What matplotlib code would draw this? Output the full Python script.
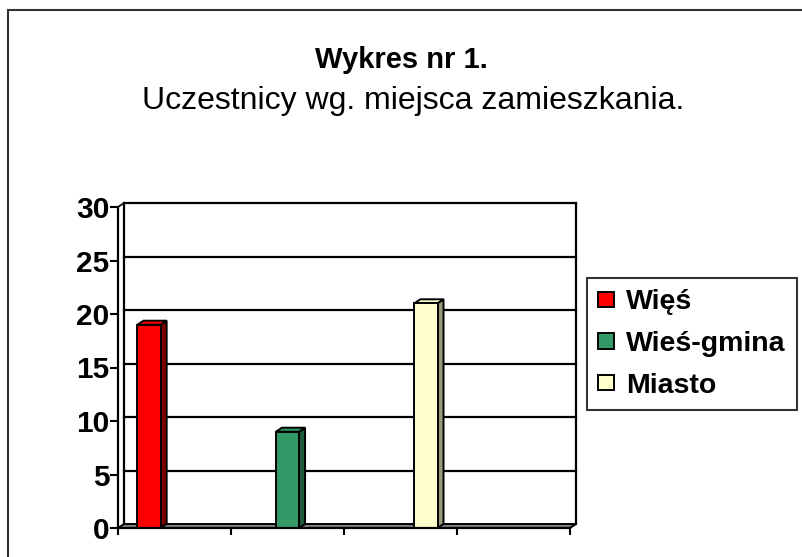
import matplotlib.pyplot as plt
from matplotlib.patches import Rectangle, Polygon

plt.rcParams['font.family'] = ['Liberation Sans', 'DejaVu Sans']

# data
categories = ['1', '2', '3', '4']
series_names = ['Więś', 'Wieś-gmina', 'Miasto']
values = [
    [19, 0, 0, 0],   # Więś
    [0, 9, 0, 0],    # Wieś-gmina
    [0, 0, 21, 0],   # Miasto
]
front_colors = ['#ff0000', '#339966', '#ffffcc']
side_colors = ['#800000', '#1e5c3d', '#99997a']
yticks = [0, 5, 10, 15, 20, 25, 30]

W, H = 802, 557
fig = plt.figure(figsize=(W / 100, H / 100), dpi=100)
# outer chart border (only top/left fall inside the picture)
fig.patches.append(Rectangle((8 / W, -0.2), 1.2, 1.2 - 10 / H, transform=fig.transFigure,
                             fill=False, edgecolor='#333333', lw=1.5))

# axes at the front plane (pixels: x 118..570, y 528..207)
ax = fig.add_axes([118 / W, 29 / H, 452 / W, 321 / H])
n = len(categories)
ax.set_xlim(0, n)
ax.set_ylim(0, 30)
ax.set_facecolor('none')

# depth offset in data units
dxp, dyp = 6, 4
dx = dxp * n / 452
dy = dyp * 30 / 321

# back wall + gridlines
for y in yticks[1:]:
    ax.plot([dx, n + dx], [y + dy, y + dy], color='black', lw=1.6, clip_on=False, zorder=1)
ax.plot([dx, dx], [dy, 30 + dy], color='black', lw=1.6, clip_on=False, zorder=1)
ax.plot([n + dx, n + dx], [dy, 30 + dy], color='black', lw=1.6, clip_on=False, zorder=1)
ax.plot([0, dx], [30, 30 + dy], color='black', lw=1.2, clip_on=False, zorder=1)

# floor
ax.add_patch(Polygon([(0, 0), (n, 0), (n + dx, dy), (dx, dy)], closed=True,
                     facecolor='#808080', edgecolor='black', lw=1.4, clip_on=False, zorder=2))

# bars
bw = 0.205
offsets = [-0.225, 0.0, 0.225]
for s, vals in enumerate(values):
    for i, v in enumerate(vals):
        if v <= 0:
            continue
        x0 = i + 0.5 + offsets[s] - bw / 2
        x1 = x0 + bw
        ax.add_patch(Polygon([(x1, 0), (x1 + dx, dy), (x1 + dx, v + dy), (x1, v)], closed=True,
                             facecolor=side_colors[s], edgecolor='black', lw=1.4,
                             clip_on=False, zorder=3))
        ax.add_patch(Polygon([(x0, v), (x1, v), (x1 + dx, v + dy), (x0 + dx, v + dy)], closed=True,
                             facecolor=front_colors[s], edgecolor='black', lw=1.4,
                             clip_on=False, zorder=3))
        ax.add_patch(Rectangle((x0, 0), bw, v, facecolor=front_colors[s], edgecolor='black',
                               lw=1.4, clip_on=False, zorder=4))

for sp in ['top', 'right']:
    ax.spines[sp].set_visible(False)
ax.spines['left'].set_linewidth(1.6)
ax.spines['bottom'].set_linewidth(1.6)
ax.spines['left'].set_zorder(5)
ax.spines['bottom'].set_zorder(5)

ax.set_yticks(yticks)
ax.set_yticklabels([str(t) for t in yticks], fontsize=21.5, fontweight='bold')
ax.set_xticks(range(n + 1))
ax.set_xticklabels([])
ax.tick_params(axis='y', length=6, width=1.5, pad=0)
ax.tick_params(axis='x', length=5, width=1.5)

# legend
handles = [Rectangle((0, 0), 1, 1, facecolor=c, edgecolor='black', lw=1.4) for c in front_colors]
leg = fig.legend(handles, series_names, loc='upper left', bbox_to_anchor=(587 / W, 1 - 278 / H),
                 prop={'weight': 'bold', 'size': 20.5}, frameon=True, fancybox=False,
                 edgecolor='black', handlelength=0.55, handleheight=0.45, handletextpad=0.42,
                 labelspacing=0.55, borderpad=0.4, borderaxespad=0)
leg.get_frame().set_linewidth(1.5)

fig.text(401 / W, 1 - 60 / H, 'Wykres nr 1.', ha='center', va='center', fontsize=21, fontweight='bold')
fig.text(413 / W, 1 - 101 / H, 'Uczestnicy wg. miejsca zamieszkania.', ha='center', va='center',
         fontsize=23)

fig.savefig('out.png', dpi=100)
